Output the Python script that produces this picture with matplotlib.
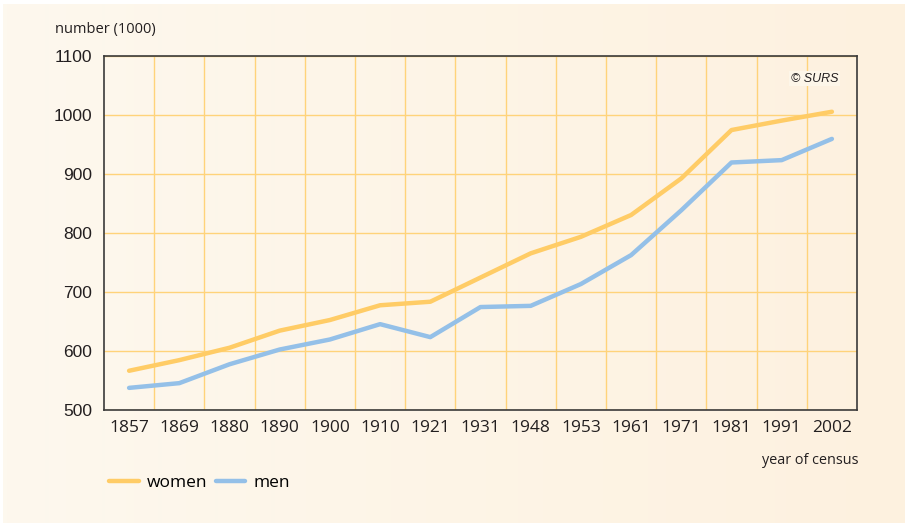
import matplotlib
matplotlib.use("Agg")
import matplotlib.pyplot as plt
import numpy as np
from matplotlib.lines import Line2D

years = ["1857", "1869", "1880", "1890", "1900", "1910", "1921", "1931",
         "1948", "1953", "1961", "1971", "1981", "1991", "2002"]
women = [566, 584, 605, 634, 652, 677, 683, 724, 765, 793, 830, 892, 974, 990, 1005]
men = [537, 545, 577, 602, 619, 645, 623, 674, 676, 713, 762, 838, 919, 923, 959]
y_ticks = [500, 600, 700, 800, 900, 1000, 1100]

W, H = 905, 523
fig = plt.figure(figsize=(W / 100, H / 100), dpi=100)
fig.patch.set_facecolor("white")

# cream background with slight horizontal gradient
bg = fig.add_axes([3 / W, 0, 1 - 3 / W, 1 - 4 / H], zorder=-10)
c1 = np.array([0xFD, 0xF8, 0xEE]) / 255
c2 = np.array([0xFD, 0xF1, 0xDF]) / 255
t = np.linspace(0, 1, 256)[None, :, None]
grad = c1 * (1 - t) + c2 * t
bg.imshow(grad, aspect="auto", extent=[0, 1, 0, 1])
bg.set_axis_off()

ax = fig.add_axes([104 / W, (H - 409.7) / H, (857 - 104) / W, (409.7 - 55.7) / H])
ax.set_facecolor("none")
x = np.arange(len(years))
grid_c = "#FFD37A"
women_c = "#FFCC66"
men_c = "#94C0E8"

ax.plot(x, women, color=women_c, lw=3.2, solid_capstyle="round", zorder=3)
ax.plot(x, men, color=men_c, lw=3.2, solid_capstyle="round", zorder=3)

ax.set_xlim(-0.5, len(years) - 0.5)
ax.set_ylim(500, 1100)
ax.set_yticks(y_ticks)
ax.set_yticklabels([str(v) for v in y_ticks], fontsize=12.5, family="Liberation Sans", color="#231f20")
ax.set_xticks(x)
ax.set_xticklabels(years, fontsize=12.5, family="Open Sans", color="#231f20")
ax.set_xticks(np.arange(0.5, len(years) - 1, 1), minor=True)
ax.tick_params(axis="both", which="both", length=0)
ax.tick_params(axis="y", pad=8.5)
ax.tick_params(axis="x", pad=7.5)
ax.grid(True, axis="y", which="major", color=grid_c, lw=1.0, zorder=1)
ax.grid(True, axis="x", which="minor", color=grid_c, lw=1.0, zorder=1)
ax.grid(False, axis="x", which="major")
for s in ax.spines.values():
    s.set_color("#3a3a3a")
    s.set_linewidth(1.2)

fig.text(55 / W, 1 - 29 / H, "number (1000)", fontsize=10.5, family="Open Sans",
         color="#231f20", ha="left", va="center")
fig.text(858 / W, 1 - 460 / H, "year of census", fontsize=10.4, family="Open Sans",
         color="#231f20", ha="right", va="center")
ax.text(0.975, 0.935, "© SURS", transform=ax.transAxes, fontsize=9,
        style="italic", family="Liberation Sans", color="#231f20", ha="right", va="center",
        bbox=dict(facecolor="#FDF6E9", edgecolor="none", pad=1), zorder=4)

handles = [Line2D([], [], color=women_c, lw=3.2, solid_capstyle="round"),
           Line2D([], [], color=men_c, lw=3.2, solid_capstyle="round")]
fig.legend(handles, ["women", "men"], loc="center left",
           bbox_to_anchor=(109 / W, 1 - 483 / H), ncol=2, frameon=False,
           borderpad=0, borderaxespad=0,
           handlelength=1.7, handletextpad=0.5, columnspacing=0.45,
           prop={"family": "Open Sans", "size": 12.5})

fig.savefig("out.png", dpi=100)
